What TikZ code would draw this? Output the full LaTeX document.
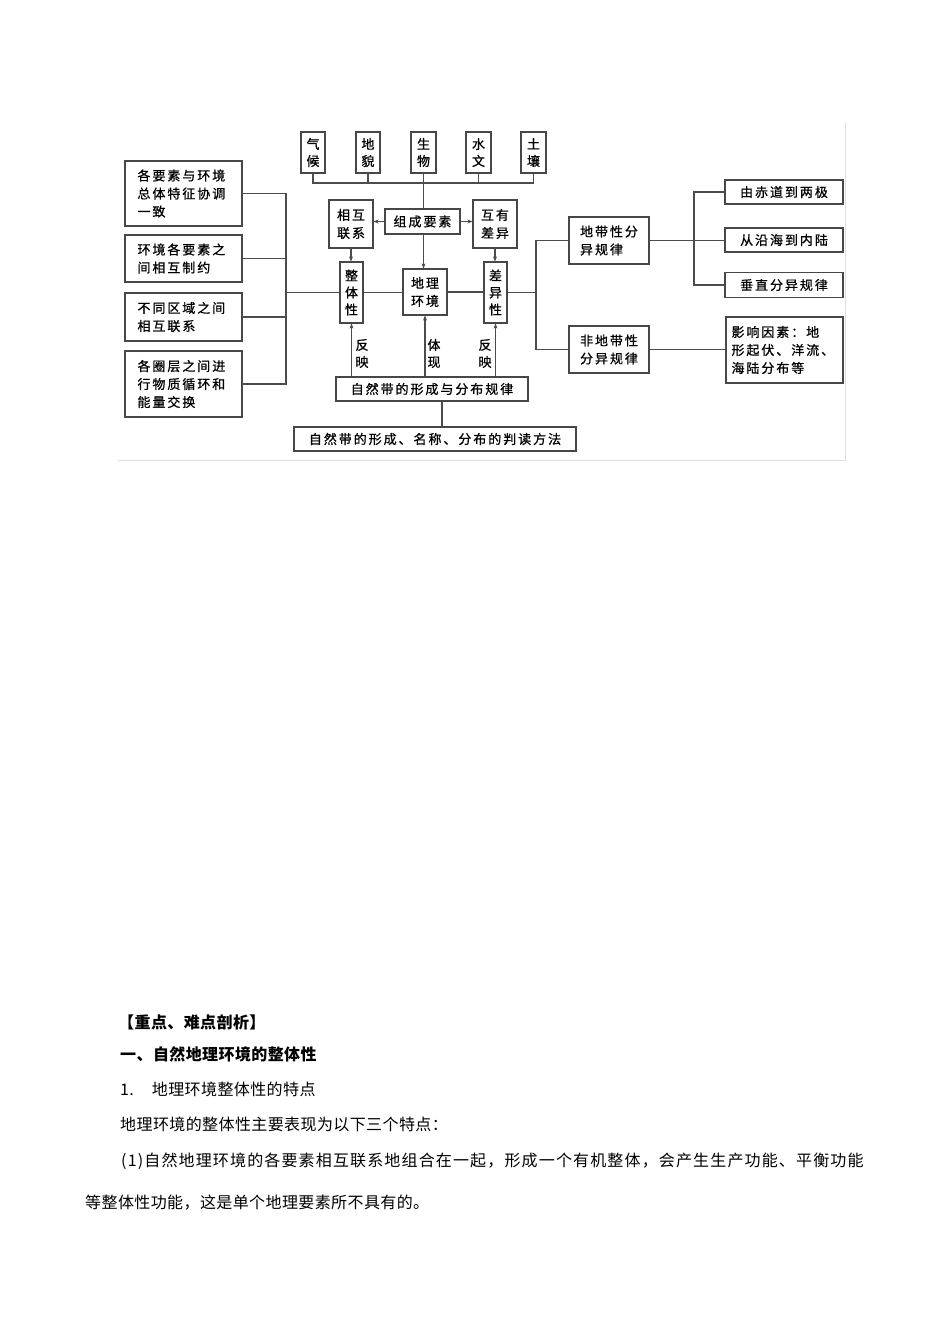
\documentclass[tikz,border=0pt]{standalone}
\usepackage{fontspec}
\usetikzlibrary{arrows.meta}
\newfontfamily\cjkbox[LetterSpace=15,FakeBold=0.8]{Noto Sans CJK SC}
\newfontfamily\cjkbody[LetterSpace=2.5]{Noto Sans CJK SC}
\newfontfamily\cjkwide[LetterSpace=7.2]{Noto Sans CJK SC}
\begin{document}
\begin{tikzpicture}[x=1pt,y=-1pt,
  box/.style={draw=black!72, line width=1.2pt, inner sep=0pt, align=center,
    font=\cjkbox\fontsize{13}{18}\selectfont},
  vbox/.style={box, font=\cjkbox\fontsize{13}{17}\selectfont},
  lbox/.style={box, align=left, text width=92},
  ln/.style={draw=black!70, line width=1.1pt},
  arr/.style={ln, -{Stealth[length=5pt,width=4pt]}},
  lab/.style={inner sep=0pt, align=center, font=\cjkbox\fontsize{13}{17}\selectfont},
  body/.style={anchor=west, inner sep=0pt, font=\cjkbody\fontsize{16}{16}\selectfont}
]
\useasboundingbox (0,0) rectangle (950,1344);
\fill[white] (0,0) rectangle (950,1344);
\draw[gray!25, line width=0.8pt] (845,122) -- (845,460) -- (118,460);

% top element boxes
\node[vbox, minimum width=24, minimum height=41] (qihou) at (313,152.5) {气\\候};
\node[vbox, minimum width=24, minimum height=41] (dimao) at (368,152.5) {地\\貌};
\node[vbox, minimum width=25, minimum height=41] (shengwu) at (423.5,152.5) {生\\物};
\node[vbox, minimum width=25, minimum height=41] (shuiwen) at (478.5,152.5) {水\\文};
\node[vbox, minimum width=25, minimum height=41] (turang) at (533.5,152.5) {土\\壤};

% middle
\node[box, minimum width=44, minimum height=48] (xianghu) at (351,224) {相互\\联系};
\node[box, minimum width=75, minimum height=25] (zucheng) at (422.5,221.5) {组成要素};
\node[box, minimum width=44, minimum height=48] (huyou) at (495,224) {互有\\差异};
\node[vbox, minimum width=23, minimum height=61] (zhengti) at (351.5,292.5) {整\\体\\性};
\node[box, minimum width=44, minimum height=46] (dili) at (425,292) {地理\\环境};
\node[vbox, minimum width=23, minimum height=61] (chayi) at (495.5,292.5) {差\\异\\性};

% left boxes
\node[lbox, minimum width=117, minimum height=65] (L1) at (183.5,193.5) {各要素与环境\\总体特征协调\\一致};
\node[lbox, minimum width=117, minimum height=47] (L2) at (183.5,258.5) {环境各要素之\\间相互制约};
\node[lbox, minimum width=117, minimum height=48] (L3) at (183.5,317) {不同区域之间\\相互联系};
\node[lbox, minimum width=117, minimum height=66] (L4) at (183.5,384) {各圈层之间进\\行物质循环和\\能量交换};

% right boxes
\node[box, align=left, minimum width=80, minimum height=47] (didai) at (609,240.5) {地带性分\\异规律};
\node[box, align=left, minimum width=80, minimum height=47] (feididai) at (609,349.5) {非地带性\\分异规律};
\node[box, minimum width=118, minimum height=24] (R1) at (784,192) {由赤道到两极};
\node[box, minimum width=118, minimum height=24] (R2) at (784,240) {从沿海到内陆};
\node[box, minimum width=118, minimum height=25] (R3) at (784,285) {垂直分异规律};
\node[box, align=left, text width=106, minimum width=117, minimum height=66] (R4) at (784.5,350) {影响因素：地\\形起伏、洋流、\\海陆分布等};

% bottom boxes
\node[box, minimum width=192, minimum height=24] (ziran) at (432,389) {自然带的形成与分布规律};
\node[box, minimum width=282, minimum height=24] (panduan) at (435,439) {自然带的形成、名称、分布的判读方法};

% labels
\node[lab] (fy1) at (362,353.5) {反\\映};
\node[lab] (tx) at (434,353.5) {体\\现};
\node[lab] (fy2) at (485,353.5) {反\\映};

% connectors
\coordinate (busy) at (0,183);
\coordinate (brk) at (286,292);
\coordinate (rbrk) at (536,292);
\coordinate (rb2) at (694,240);
\coordinate (dn) at (442,0);

\draw[ln] (qihou.south) -- (qihou.south |- busy) -- (turang.south |- busy) -- (turang.south);
\draw[ln] (dimao.south) -- (dimao.south |- busy);
\draw[ln] (shuiwen.south) -- (shuiwen.south |- busy);
\draw[ln] (shengwu.south) -- (shengwu.south |- zucheng.north);
\draw[arr] (shengwu.south |- zucheng.south) -- (shengwu.south |- dili.north);
\draw[arr] (zucheng.west) -- (zucheng.west -| xianghu.east);
\draw[arr] (zucheng.east) -- (zucheng.east -| huyou.west);
\draw[arr] (xianghu.south) -- (xianghu.south |- zhengti.north);
\draw[arr] (huyou.south) -- (huyou.south |- chayi.north);

\draw[ln] (brk |- zhengti.west) -- (zhengti.west);
\draw[ln] (zhengti.east) -- (zhengti.east -| dili.west);
\draw[ln] (dili.east) -- (dili.east -| chayi.west);
\draw[ln] (chayi.east) -- (chayi.east -| rbrk);

\draw[ln] (L1.east) -- (L1.east -| brk) -- (L4.east -| brk) -- (L4.east);
\draw[ln] (L2.east) -- (L2.east -| brk);
\draw[ln] (L3.east) -- (L3.east -| brk);

\draw[ln] (didai.west) -- (didai.west -| rbrk) -- (feididai.west -| rbrk) -- (feididai.west);
\draw[ln] (R1.west) -- (R1.west -| rb2) -- (R3.west -| rb2) -- (R3.west);
\draw[ln] (didai.east) -- (didai.east -| R2.west);
\draw[ln] (feididai.east) -- (feididai.east -| R4.west);

\draw[arr] (ziran.north -| zhengti.south) -- (zhengti.south);
\draw[arr] (ziran.north -| dili.south) -- (dili.south);
\draw[arr] (ziran.north -| chayi.south) -- (chayi.south);
\draw[ln] (ziran.south -| dn) -- (panduan.north -| dn);

% text below
\node[body, font=\cjkbody\bfseries\fontsize{16}{16}\selectfont] (t1) at (118,1022) {【重点、难点剖析】};
\node[body, font=\cjkbody\bfseries\fontsize{16}{16}\selectfont] (t2) at (120,1054) {一、自然地理环境的整体性};
\node[body] (t3) at (120,1089) {1.\hspace{18pt}地理环境整体性的特点};
\node[body] (t4) at (120,1124) {地理环境的整体性主要表现为以下三个特点：};
\node[body, font=\cjkwide\fontsize{16}{16}\selectfont] (t5) at (121,1161) {(1)自然地理环境的各要素相互联系地组合在一起，形成一个有机整体，会产生生产功能、平衡功能};
\node[body] (t6) at (85,1203) {等整体性功能，这是单个地理要素所不具有的。};
\end{tikzpicture}
\end{document}
